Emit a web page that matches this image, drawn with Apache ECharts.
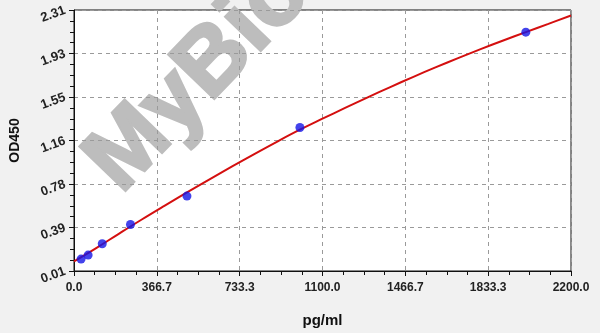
<!DOCTYPE html>
<html>
<head>
<meta charset="utf-8">
<script src="https://cdn.jsdelivr.net/npm/echarts@6/dist/echarts.min.js"></script>
<style>
html,body{margin:0;padding:0;background:#f1f1f1;}
#c{width:600px;height:333px;}
</style>
</head>
<body>
<div id="c"></div>
<script>
// Standard points (pg/ml, OD450)
var stdConc = [31.25, 62.5, 125, 250, 500, 1000, 2000];
var stdOD   = [0.115, 0.15, 0.25, 0.42, 0.67, 1.275, 2.115];
// Fitted curve
var curveConc = [0, 100, 200, 300, 400, 500, 600, 700, 800, 900, 1000, 1100, 1200, 1300, 1400, 1500, 1600, 1700, 1800, 1900, 2000, 2100, 2200];
var curveOD   = [0.094, 0.214, 0.340, 0.464, 0.584, 0.702, 0.818, 0.932, 1.043, 1.151, 1.255, 1.352, 1.447, 1.540, 1.631, 1.719, 1.804, 1.886, 1.965, 2.041, 2.115, 2.188, 2.262];
// Tick labels
var xTickLabels = ['0.0', '366.7', '733.3', '1100.0', '1466.7', '1833.3', '2200.0'];
var yTickLabels = ['0.01', '0.39', '0.78', '1.16', '1.55', '1.93', '2.31'];

var chart = echarts.init(document.getElementById('c'), null, {renderer: 'canvas'});
var font = 'Liberation Sans, Arial, sans-serif';
var gridLine = {show: true, lineStyle: {color: '#9a9a9a', type: [4, 4], width: 1}};

chart.setOption({
  backgroundColor: '#f1f1f1',
  animation: false,
  grid: {z: -1, left: 73, right: 29, top: 10, bottom: 62, show: true, backgroundColor: '#ffffff', borderColor: '#111', borderWidth: 1},
  xAxis: {
    type: 'value', min: 0, max: 2200, interval: 2200 / 6,
    name: 'pg/ml', nameLocation: 'middle', nameGap: 42,
    nameTextStyle: {fontFamily: font, fontWeight: 'bold', fontSize: 15, color: '#111'},
    axisLine: {show: true, onZero: false, lineStyle: {color: '#111', width: 1}},
    axisTick: {show: true, length: 5, lineStyle: {color: '#111'}},
    minorTick: {show: true, splitNumber: 4, length: 4, lineStyle: {color: '#111'}},
    axisLabel: {fontFamily: font, fontWeight: 'bold', fontSize: 12, color: '#222', margin: 11,
      formatter: function (v, i) { return xTickLabels[i]; }},
    splitLine: gridLine
  },
  yAxis: {
    type: 'value', min: 0.01, max: 2.31, interval: 2.3 / 6,
    name: 'OD450', nameLocation: 'middle', nameGap: 52, nameRotate: 90,
    nameTextStyle: {fontFamily: font, fontWeight: 'bold', fontSize: 14, color: '#111'},
    axisLine: {show: true, onZero: false, lineStyle: {color: '#111', width: 1}},
    axisTick: {show: true, length: 5, lineStyle: {color: '#111'}},
    minorTick: {show: true, splitNumber: 4, length: 4, lineStyle: {color: '#111'}},
    axisLabel: {fontFamily: font, fontWeight: 'bold', fontSize: 13, color: '#222', rotate: 20, margin: 9,
      formatter: function (v, i) { return yTickLabels[i]; }},
    splitLine: gridLine
  },
  series: [
    {
      type: 'line', smooth: 0.4, showSymbol: false, z: 3,
      data: curveConc.map(function (x, i) { return [x, curveOD[i]]; }),
      lineStyle: {color: '#d40f0f', width: 2}
    },
    {
      type: 'scatter', symbol: 'circle', symbolSize: 9, z: 4,
      data: stdConc.map(function (x, i) { return [x, stdOD[i]]; }),
      itemStyle: {color: '#1414e6'}
    }
  ],
  graphic: [{
    type: 'text', x: 103, y: 177, rotation: 46 * Math.PI / 180, z: -0.5,
    style: {text: 'MyBio', font: 'bold 92px Liberation Sans, Arial, sans-serif', fill: '#bdbdbd', stroke: '#bdbdbd', lineWidth: 3, textAlign: 'left', textVerticalAlign: 'middle'}
  }]
});
</script>
</body>
</html>
